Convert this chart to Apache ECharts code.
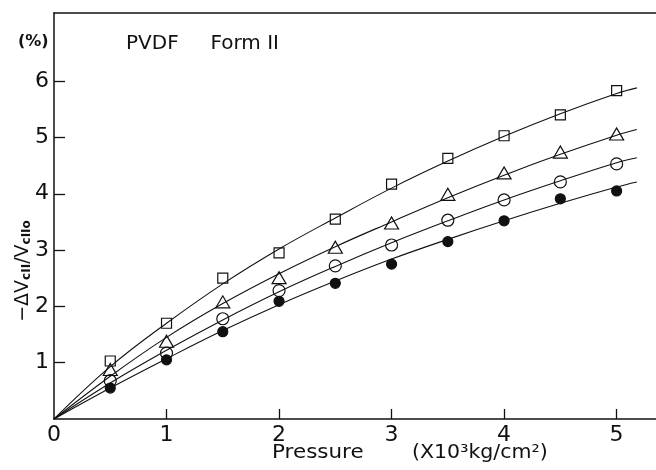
<!DOCTYPE html>
<html>
<head>
<meta charset="utf-8">
<script src="https://cdn.jsdelivr.net/npm/echarts@6/dist/echarts.min.js"></script>
<style>
html,body{margin:0;padding:0;background:#fff;}
#chart{width:656px;height:470px;}
</style>
</head>
<body>
<div id="chart"></div>
<script>
// Pressure values (x 10^3 kg/cm^2)
const pressures = [0.5, 1, 1.5, 2, 2.5, 3, 3.5, 4, 4.5, 5];
// Measured -dVc/Vc0 (%) for four samples
const squareVals   = [1.03, 1.70, 2.50, 2.95, 3.55, 4.17, 4.63, 5.03, 5.40, 5.83];
const triangleVals = [0.88, 1.38, 2.08, 2.51, 3.05, 3.48, 3.99, 4.37, 4.74, 5.06];
const circleVals   = [0.68, 1.17, 1.78, 2.28, 2.72, 3.09, 3.53, 3.89, 4.21, 4.53];
const filledVals   = [0.55, 1.05, 1.55, 2.09, 2.41, 2.75, 3.15, 3.52, 3.91, 4.05];
// Fitted curves
const curveX        = [0, 0.5, 1, 1.5, 2, 2.5, 3, 3.5, 4, 4.5, 5, 5.18];
const squareCurve   = [0, 0.93, 1.70, 2.40, 3.02, 3.57, 4.10, 4.58, 5.02, 5.42, 5.78, 5.88];
const triangleCurve = [0, 0.76, 1.45, 2.05, 2.58, 3.06, 3.50, 3.93, 4.33, 4.70, 5.04, 5.14];
const circleCurve   = [0, 0.64, 1.22, 1.76, 2.26, 2.71, 3.13, 3.52, 3.89, 4.23, 4.55, 4.64];
const filledCurve   = [0, 0.55, 1.07, 1.57, 2.03, 2.45, 2.84, 3.19, 3.52, 3.83, 4.12, 4.21];
// Tick labels
const xTicks = [0, 1, 2, 3, 4, 5];
const yTicks = [1, 2, 3, 4, 5, 6];

const zip = (xs, ys) => xs.map((x, i) => [x, ys[i]]);
const FONT = '"DejaVu Sans", "Liberation Sans", sans-serif';

const chart = echarts.init(document.getElementById('chart'), null, {renderer: 'canvas'});

function curve(vals) {
  return {
    type: 'line', data: zip(curveX, vals), smooth: 0.4, showSymbol: false, symbol: 'none',
    lineStyle: {color: '#111', width: 1.1}, z: 2, silent: true
  };
}
function marks(vals, symbol, size, fill) {
  return {
    type: 'scatter', data: zip(pressures, vals), symbol: symbol, symbolSize: size,
    itemStyle: {color: fill, borderColor: '#111', borderWidth: 1.2, opacity: 1}, z: 3, silent: true
  };
}

chart.setOption({
  animation: false,
  backgroundColor: '#fff',
  title: [
    {text: 'PVDF     Form II', left: 121, top: 29,
     textStyle: {fontFamily: FONT, fontSize: 20, fontWeight: 'normal', color: '#111'}},
    {text: '(%)', left: 13, top: 29,
     textStyle: {fontFamily: FONT, fontSize: 16, fontWeight: 'bold', color: '#111'}}
  ],
  graphic: [
    {type: 'text', x: 272, y: 444, scaleX: 1.13, silent: true,
     style: {text: 'Pressure', font: '19px ' + FONT, fill: '#111'}},
    {type: 'text', x: 412, y: 444, scaleX: 1.08, silent: true,
     style: {text: '(X10³kg/cm²)', font: '19px ' + FONT, fill: '#111'}}
  ],
  grid: {left: 54, right: 0, top: 13, bottom: 51, containLabel: false},
  xAxis: [{
    type: 'value', min: 0, max: 5.35, interval: 1,
    axisLine: {show: true, onZero: false, lineStyle: {color: '#111', width: 1.5}},
    axisTick: {show: true, inside: true, length: 10, customValues: [1, 2, 3, 4, 5],
               lineStyle: {color: '#111', width: 1.3}},
    axisLabel: {customValues: xTicks, fontFamily: FONT, fontSize: 22, color: '#111', margin: 5,
                showMaxLabel: true, showMinLabel: true},
    splitLine: {show: false}
  }, {
    type: 'value', position: 'top', min: 0, max: 5.35,
    axisLine: {show: true, onZero: false, lineStyle: {color: '#111', width: 1.5}},
    axisTick: {show: false}, axisLabel: {show: false}, splitLine: {show: false}
  }],
  yAxis: {
    type: 'value', min: 0, max: 7.21, interval: 1,
    axisLine: {show: true, onZero: false, lineStyle: {color: '#111', width: 1.5}},
    axisTick: {show: true, inside: true, length: 11, customValues: yTicks,
               lineStyle: {color: '#111', width: 1.3}},
    axisLabel: {customValues: yTicks, fontFamily: FONT, fontSize: 22, color: '#111', margin: 5},
    splitLine: {show: false},
    name: '{m|−ΔV}{s|cII}{m|/V}{s|cIIo}',
    nameLocation: 'middle', nameRotate: 90, nameGap: 21, nameMoveOverlap: false,
    nameTextStyle: {
      fontFamily: FONT, color: '#111', padding: [0, 110, 0, 0],
      rich: {
        m: {fontFamily: FONT, fontSize: 19, color: '#111'},
        s: {fontFamily: FONT, fontSize: 12, fontWeight: 'bold', color: '#111', padding: [7, 0, 0, 0]}
      }
    }
  },
  series: [
    curve(squareCurve), curve(triangleCurve), curve(circleCurve), curve(filledCurve),
    marks(squareVals, 'rect', 10, 'rgba(255,255,255,0)'),
    marks(triangleVals, 'triangle', [14, 12], 'rgba(255,255,255,0)'),
    marks(circleVals, 'circle', 12, 'rgba(255,255,255,0)'),
    marks(filledVals, 'circle', 10, '#111')
  ]
});
</script>
</body>
</html>
